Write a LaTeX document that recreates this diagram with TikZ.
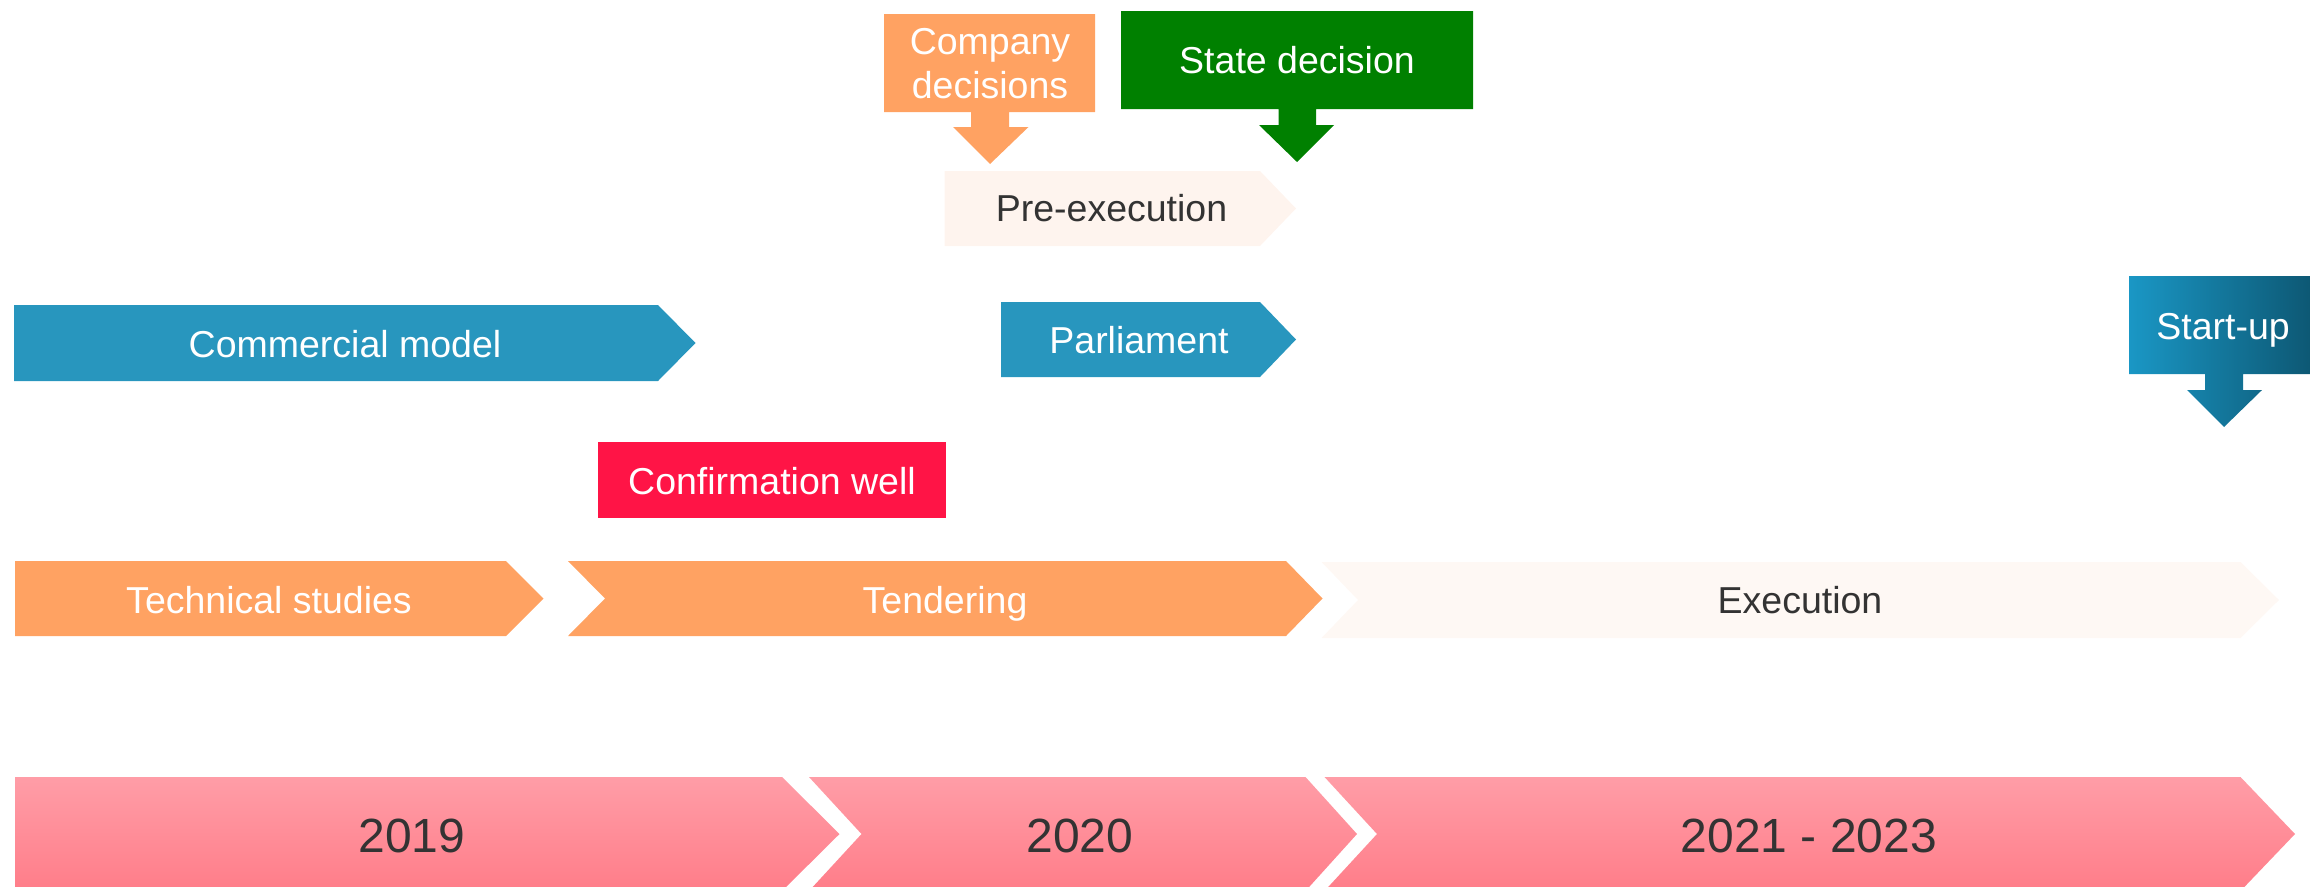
\documentclass[tikz,border=0pt]{standalone}
\usepackage{fontspec}
\setmainfont{Liberation Sans}
\definecolor{cblue}{HTML}{2896BE}
\definecolor{corange}{HTML}{FFA262}
\definecolor{cgreen}{HTML}{008000}
\definecolor{cred}{HTML}{FF1446}
\definecolor{cpale}{HTML}{FEF4EE}
\definecolor{cpaleb}{HTML}{FEF8F4}
\definecolor{cpinktop}{HTML}{FF9DA7}
\definecolor{cpinkbot}{HTML}{FF7D89}
\definecolor{cstartL}{HTML}{1A97C5}
\definecolor{cstartR}{HTML}{0D5874}
\definecolor{ctext}{HTML}{333333}
\begin{document}
\begin{tikzpicture}[x=1pt,y=-1pt,
  lbl/.style={font=\fontsize{37.5}{44}\selectfont, inner sep=0pt, align=center, anchor=base},
  wlbl/.style={lbl, text=white},
  dlbl/.style={lbl, text=ctext},
  ylbl/.style={font=\fontsize{48}{58}\selectfont, text=ctext, inner sep=0pt, anchor=base},
  yearbar/.style={top color=cpinktop, bottom color=cpinkbot, draw=none}]
\useasboundingbox (0,0) rectangle (2310,886);

% callouts
\fill[corange] (884,14) -- (1095,14) -- (1095,112) -- (1009,112) -- (1009,127) -- (1028.5,127) -- (990,164) -- (953,127) -- (971,127) -- (971,112) -- (884,112) -- cycle;
\node[wlbl, anchor=center] (company) at (990,63.5) {Company\\decisions};

\fill[cgreen] (1121,11) -- (1473,11) -- (1473,109) -- (1316,109) -- (1316,125) -- (1334,125) -- (1297,162) -- (1259,125) -- (1278.5,125) -- (1278.5,109) -- (1121,109) -- cycle;
\node[wlbl] (state) at (1297,73) {State decision};

\shade[left color=cstartL, right color=cstartR] (2129,276) -- (2310,276) -- (2310,374) -- (2243,374) -- (2243,390) -- (2262,390) -- (2224,427) -- (2187,390) -- (2205,390) -- (2205,374) -- (2129,374) -- cycle;
\node[wlbl] (startup) at (2223,339) {Start-up};

% pre-execution
\fill[cpale] (944.5,171) -- (1260,171) -- (1296,208.5) -- (1260,246) -- (944.5,246) -- cycle;
\node[dlbl] (preexec) at (1111.5,221) {Pre-execution};

% commercial model and parliament
\fill[cblue] (14,305) -- (658,305) -- (695.5,343) -- (658,381) -- (14,381) -- cycle;
\node[wlbl] (commercial) at (345,357) {Commercial model};
\fill[cblue] (1001,302) -- (1260,302) -- (1296,339.5) -- (1260,377) -- (1001,377) -- cycle;
\node[wlbl] (parliament) at (1139,353) {Parliament};

% confirmation well
\fill[cred] (598,442) rectangle (946,518);
\node[wlbl] (confirm) at (772,494) {Confirmation well};

% phases
\fill[corange] (15,561) -- (506,561) -- (543.5,598.5) -- (506,636) -- (15,636) -- cycle;
\node[wlbl] (technical) at (269,613) {Technical studies};
\fill[corange] (568,561) -- (1286,561) -- (1322.5,598.5) -- (1286,636) -- (568,636) -- (605,598.5) -- cycle;
\node[wlbl] (tendering) at (945,613) {Tendering};
\fill[cpaleb] (1321.5,562) -- (2240.5,562) -- (2279,600) -- (2240.5,638) -- (1321.5,638) -- (1358,600) -- cycle;
\node[dlbl] (execution) at (1800,613) {Execution};

% years
\shade[yearbar] (15,777) -- (782,777) -- (839.5,834) -- (782,891) -- (15,891) -- cycle;
\node[ylbl] (y2019) at (412,852) {2019};
\shade[yearbar] (809,777) -- (1305.5,777) -- (1357,834) -- (1305.5,891) -- (809,891) -- (861.5,834) -- cycle;
\node[ylbl] (y2020) at (1080,852) {2020};
\shade[yearbar] (1324.5,777) -- (2240.5,777) -- (2295,834) -- (2240.5,891) -- (1324.5,891) -- (1377,834) -- cycle;
\node[ylbl] (y2021) at (1809,852) {2021 - 2023};
\end{tikzpicture}
\end{document}
